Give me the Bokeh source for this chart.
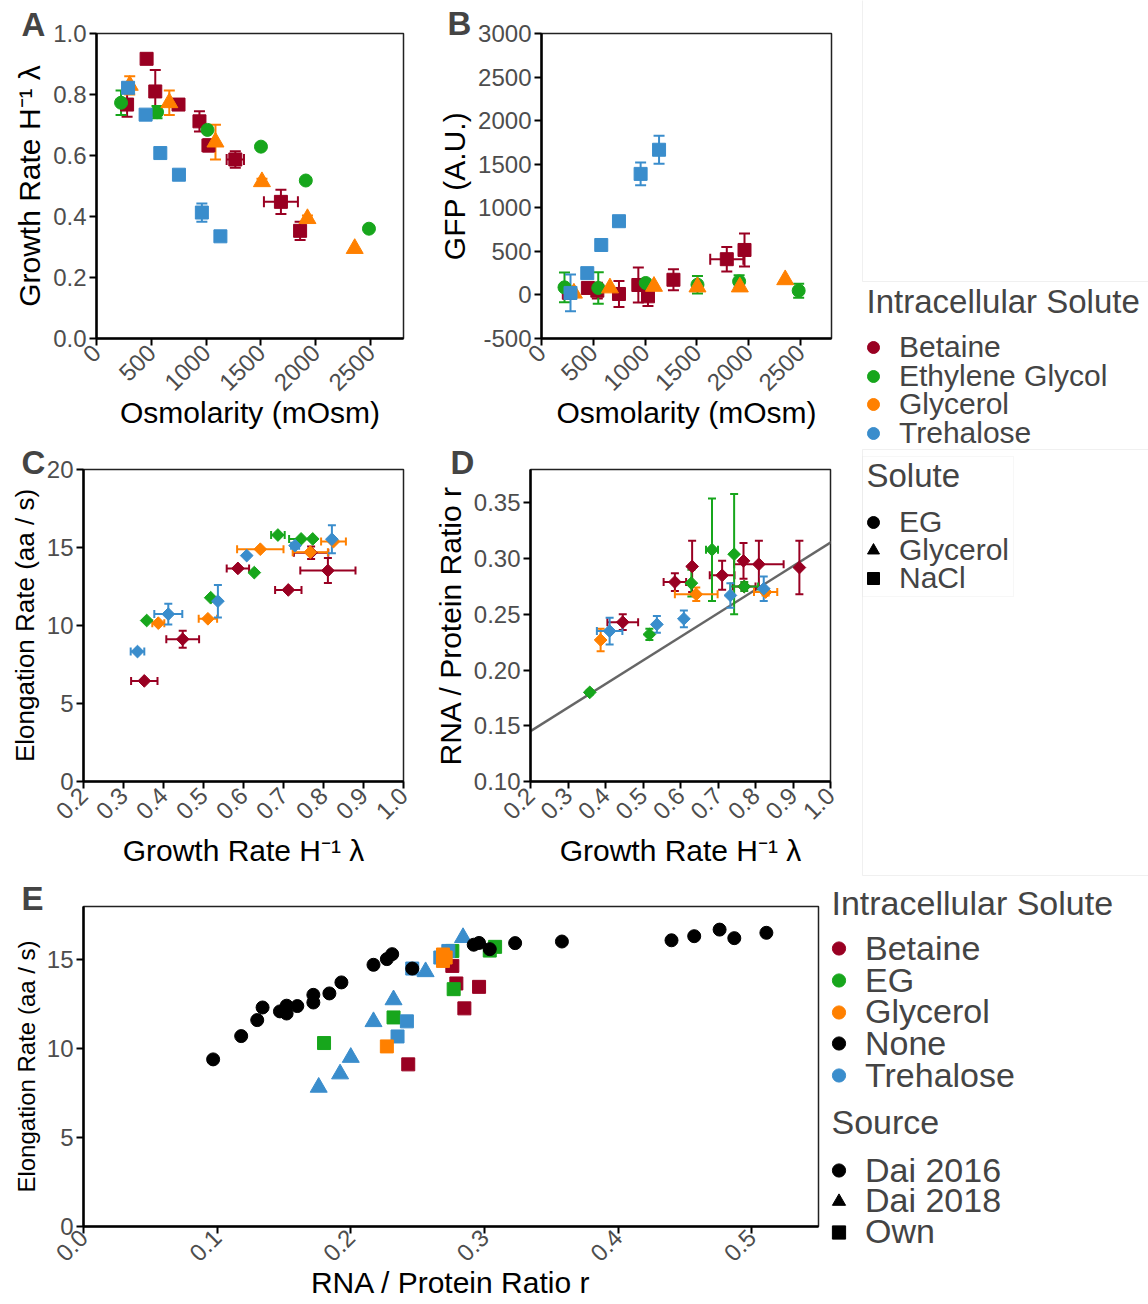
import numpy as np
from math import pi
from bokeh.plotting import figure
from bokeh.models import (ColumnDataSource, Whisker, TeeHead, Range1d, FixedTicker,
                          NumeralTickFormatter, Label, Legend, LegendItem, BoxAnnotation, Slope)
from bokeh.layouts import row, column
from bokeh.embed import file_html
from bokeh.resources import INLINE

FONT = "Liberation Sans"
RED, GREEN, ORANGE, BLUE, BLACK = "#990022", "#17a61c", "#ff8000", "#3a8dcc", "#000000"

# ---------------- Panel A: osmolarity vs growth rate ----------------
A_BET_OSM = [279, 457, 536, 748, 939, 1021, 1266, 1682, 1857]
A_BET_GR = [0.767, 0.917, 0.810, 0.767, 0.712, 0.633, 0.587, 0.448, 0.353]
A_BET_GR_ERR = [0.040, 0.0, 0.070, 0.0, 0.033, 0.020, 0.027, 0.040, 0.030]
A_BET_OSM_ERR = [0, 0, 0, 0, 0, 0, 79, 155, 0]
A_EG_OSM = [224, 552, 1012, 1500, 1909, 2485]
A_EG_GR = [0.773, 0.742, 0.684, 0.629, 0.518, 0.360]
A_EG_GR_ERR = [0.040, 0.020, 0.010, 0, 0, 0]
A_GLY_OSM = [303, 664, 1085, 1509, 1924, 2355]
A_GLY_GR = [0.830, 0.773, 0.644, 0.514, 0.393, 0.295]
A_GLY_GR_ERR = [0.030, 0.040, 0.057, 0.010, 0.010, 0]
A_TRE_OSM = [288, 448, 582, 752, 961, 1130]
A_TRE_GR = [0.822, 0.734, 0.608, 0.537, 0.413, 0.335]
A_TRE_GR_ERR = [0, 0, 0, 0, 0.030, 0]

# ---------------- Panel B: osmolarity vs GFP ----------------
B_BET_OSM = [264, 448, 539, 748, 935, 1028, 1274, 1789, 1960]
B_BET_GFP = [25, 80, 49, 11, 114, -16, 174, 410, 516]
B_BET_GFP_ERR = [60, 40, 90, 150, 200, 110, 120, 140, 190]
B_BET_OSM_ERR = [0, 0, 0, 0, 0, 0, 0, 160, 0]
B_EG_OSM = [222, 548, 1006, 1506, 1908, 2483]
B_EG_GFP = [87, 80, 137, 117, 155, 49]
B_EG_GFP_ERR = [170, 180, 40, 100, 70, 80]
B_GLY_OSM = [313, 661, 1086, 1506, 1915, 2353]
B_GLY_GFP = [20, 80, 98, 91, 91, 174]
B_TRE_OSM = [280, 442, 577, 748, 957, 1135]
B_TRE_GFP = [23, 250, 573, 846, 1389, 1666]
B_TRE_GFP_ERR = [210, 0, 30, 40, 130, 160]

# ---------------- Panel C: growth rate vs elongation rate ----------------
C_BET_GR = [0.352, 0.448, 0.586, 0.712, 0.769, 0.811]
C_BET_EL = [6.45, 9.12, 13.66, 12.28, 14.67, 13.52]
C_BET_GR_ERR = [0.033, 0.041, 0.028, 0.033, 0.043, 0.069]
C_BET_EL_ERR = [0, 0.55, 0, 0, 0.40, 0.80]
C_EG_GR = [0.358, 0.518, 0.627, 0.686, 0.744, 0.773]
C_EG_EL = [10.32, 11.78, 13.39, 15.80, 15.55, 15.55]
C_EG_GR_ERR = [0, 0, 0, 0.017, 0.030, 0]
C_GLY_GR = [0.387, 0.511, 0.642, 0.767, 0.825]
C_GLY_EL = [10.15, 10.43, 14.89, 14.70, 15.38]
C_GLY_GR_ERR = [0.015, 0.023, 0.058, 0.044, 0.031]
C_TRE_GR = [0.335, 0.412, 0.536, 0.608, 0.729, 0.821]
C_TRE_EL = [8.33, 10.73, 11.56, 14.48, 15.12, 15.53]
C_TRE_GR_ERR = [0.017, 0.035, 0, 0, 0.010, 0]
C_TRE_EL_ERR = [0, 0.67, 1.04, 0, 0, 0.90]

# ---------------- Panel D: growth rate vs RNA/protein ----------------
D_BET_GR = [0.446, 0.585, 0.631, 0.711, 0.768, 0.770, 0.809, 0.917]
D_BET_R = [0.243, 0.279, 0.293, 0.285, 0.298, 0.275, 0.295, 0.292]
D_BET_GR_ERR = [0.041, 0.030, 0, 0.033, 0, 0.030, 0.066, 0]
D_BET_R_ERR = [0.007, 0.008, 0.023, 0.013, 0.016, 0, 0.021, 0.024]
D_EG_GR = [0.358, 0.517, 0.629, 0.684, 0.743, 0.770]
D_EG_R = [0.180, 0.232, 0.278, 0.308, 0.304, 0.275]
D_EG_GR_ERR = [0.005, 0, 0, 0.016, 0, 0.037]
D_EG_R_ERR = [0.002, 0.005, 0.012, 0.046, 0.054, 0.004]
D_GLY_GR = [0.387, 0.642, 0.827]
D_GLY_R = [0.227, 0.268, 0.270]
D_GLY_GR_ERR = [0, 0.057, 0.031]
D_GLY_R_ERR = [0.010, 0.006, 0.003]
D_TRE_GR = [0.411, 0.537, 0.609, 0.733, 0.822]
D_TRE_R = [0.235, 0.241, 0.246, 0.267, 0.273]
D_TRE_GR_ERR = [0.034, 0, 0, 0, 0]
D_TRE_R_ERR = [0.012, 0.0075, 0.0075, 0.011, 0.011]
D_FIT_SLOPE = 0.2115
D_FIT_INTERCEPT = 0.1029

# ---------------- Panel E: RNA/protein vs elongation rate ----------------
E_DAI16_R = [0.097, 0.118, 0.130, 0.134, 0.147, 0.152, 0.152, 0.160, 0.172, 0.172, 0.184, 0.193,
             0.217, 0.227, 0.231, 0.246, 0.292, 0.296, 0.304, 0.323, 0.358, 0.440, 0.457, 0.476,
             0.487, 0.511]
E_DAI16_EL = [9.40, 10.71, 11.61, 12.32, 12.10, 12.42, 11.98, 12.40, 13.03, 12.60, 13.11, 13.73,
              14.72, 15.04, 15.32, 14.51, 15.85, 15.95, 15.60, 15.94, 16.03, 16.10, 16.33, 16.70,
              16.22, 16.52]
E_DAI18_R = [0.176, 0.192, 0.200, 0.217, 0.232, 0.256, 0.284]
E_DAI18_EL = [7.83, 8.58, 9.51, 11.52, 12.75, 14.33, 16.25]
E_OWN_BET_R = [0.243, 0.276, 0.279, 0.285, 0.296]
E_OWN_BET_EL = [9.12, 14.66, 13.67, 12.27, 13.48]
E_OWN_EG_R = [0.180, 0.232, 0.277, 0.276, 0.304, 0.308]
E_OWN_EG_EL = [10.32, 11.76, 13.35, 15.50, 15.52, 15.73]
E_OWN_GLY_R = [0.227, 0.269, 0.269, 0.271]
E_OWN_GLY_EL = [10.13, 14.94, 15.30, 15.13]
E_OWN_TRE_R = [0.235, 0.242, 0.246, 0.267, 0.273]
E_OWN_TRE_EL = [10.69, 11.54, 14.51, 15.13, 15.50]

SOLUTES_TOP = ["Betaine", "Ethylene Glycol", "Glycerol", "Trehalose"]
SOLUTE_COLORS_TOP = [RED, GREEN, ORANGE, BLUE]
SHAPES_TOP = ["EG", "Glycerol", "NaCl"]
SHAPE_MARKERS_TOP = ["circle", "triangle", "square"]
SOLUTES_E = ["Betaine", "EG", "Glycerol", "None", "Trehalose"]
SOLUTE_COLORS_E = [RED, GREEN, ORANGE, BLACK, BLUE]
SOURCES_E = ["Dai 2016", "Dai 2018", "Own"]
SOURCE_MARKERS_E = ["circle", "triangle", "square"]


def base_fig(w, h, xr, yr, l, r, t, b):
    p = figure(width=w, height=h, x_range=Range1d(*xr), y_range=Range1d(*yr),
               output_backend="svg", toolbar_location=None,
               min_border_left=l, min_border_right=r, min_border_top=t, min_border_bottom=b)
    p.grid.visible = False
    p.outline_line_color = "#222222"
    p.outline_line_width = 1.5
    p.background_fill_color = "white"
    p.border_fill_color = "white"
    return p


def style(p, xlabel, ylabel, xticks, yticks, xfmt, yfmt, ylabel_size="30px"):
    for ax in (p.xaxis[0], p.yaxis[0]):
        ax.axis_line_width = 2.5
        ax.axis_line_color = "black"
        ax.major_tick_line_width = 2
        ax.major_tick_line_color = "black"
        ax.major_tick_out = 7
        ax.major_tick_in = 0
        ax.minor_tick_line_color = None
        ax.major_label_text_font = FONT
        ax.major_label_text_font_size = "24px"
        ax.major_label_text_color = "#4d4d4d"
        ax.major_label_standoff = 3
        ax.axis_label_text_font = FONT
        ax.axis_label_text_font_style = "normal"
        ax.axis_label_text_color = "black"
        ax.axis_label_standoff = 4
    p.xaxis.axis_label = xlabel
    p.yaxis.axis_label = ylabel
    p.xaxis.axis_label_text_font_size = "30px"
    p.yaxis.axis_label_text_font_size = ylabel_size
    p.xaxis.ticker = FixedTicker(ticks=xticks)
    p.yaxis.ticker = FixedTicker(ticks=yticks)
    p.xaxis.formatter = NumeralTickFormatter(format=xfmt)
    p.yaxis.formatter = NumeralTickFormatter(format=yfmt)
    p.xaxis.major_label_orientation = pi / 4


def errbars(p, x, y, err, color, dim, size):
    x = np.asarray(x, float)
    y = np.asarray(y, float)
    e = np.asarray(err, float)
    m = e > 0
    if not m.any():
        return
    if dim == "height":
        src = ColumnDataSource(dict(base=x[m], lower=y[m] - e[m], upper=y[m] + e[m]))
    else:
        src = ColumnDataSource(dict(base=y[m], lower=x[m] - e[m], upper=x[m] + e[m]))
    w = Whisker(source=src, base="base", lower="lower", upper="upper", dimension=dim,
                line_color=color, line_width=2,
                upper_head=TeeHead(size=size, line_color=color, line_width=2),
                lower_head=TeeHead(size=size, line_color=color, line_width=2))
    p.add_layout(w)


def letter(p, text, offset, standoff):
    p.title.text = text
    p.title.text_font = FONT
    p.title.text_font_size = "33px"
    p.title.text_font_style = "bold"
    p.title.align = "left"
    p.title.vertical_align = "bottom"
    p.title.offset = offset
    p.title.standoff = standoff


GR_LABEL = "Growth Rate H\u207b\u00b9 \u03bb"

# ---------------- Figure A ----------------
pA = base_fig(430, 442, (0, 2800), (0, 1.0), 96, 27, 32, 102)
style(pA, "Osmolarity (mOsm)", GR_LABEL, [0, 500, 1000, 1500, 2000, 2500],
      [0, 0.2, 0.4, 0.6, 0.8, 1.0], "0", "0.0")
pA.xaxis.axis_label_standoff = -5
pA.scatter(A_BET_OSM, A_BET_GR, marker="square", size=13, color=RED)
pA.scatter(A_EG_OSM, A_EG_GR, marker="circle", size=13, color=GREEN)
pA.scatter(A_GLY_OSM, A_GLY_GR, marker="triangle", size=17, color=ORANGE)
pA.scatter(A_TRE_OSM, A_TRE_GR, marker="square", size=13, color=BLUE)
errbars(pA, A_BET_OSM, A_BET_GR, A_BET_GR_ERR, RED, "height", 11)
errbars(pA, A_BET_OSM, A_BET_GR, A_BET_OSM_ERR, RED, "width", 11)
errbars(pA, A_EG_OSM, A_EG_GR, A_EG_GR_ERR, GREEN, "height", 11)
errbars(pA, A_GLY_OSM, A_GLY_GR, A_GLY_GR_ERR, ORANGE, "height", 11)
errbars(pA, A_TRE_OSM, A_TRE_GR, A_TRE_GR_ERR, BLUE, "height", 11)
letter(pA, "A", -75, -19)

# ---------------- Figure B ----------------
pB = base_fig(418, 442, (0, 2800), (-500, 3000), 111, 17, 33, 104)
style(pB, "Osmolarity (mOsm)", "GFP (A.U.)", [0, 500, 1000, 1500, 2000, 2500],
      [-500, 0, 500, 1000, 1500, 2000, 2500, 3000], "0", "0")
pB.xaxis.axis_label_standoff = -5
pB.scatter(B_BET_OSM, B_BET_GFP, marker="square", size=13, color=RED)
pB.scatter(B_EG_OSM, B_EG_GFP, marker="circle", size=13, color=GREEN)
pB.scatter(B_GLY_OSM, B_GLY_GFP, marker="triangle", size=17, color=ORANGE)
pB.scatter(B_TRE_OSM, B_TRE_GFP, marker="square", size=13, color=BLUE)
errbars(pB, B_BET_OSM, B_BET_GFP, B_BET_GFP_ERR, RED, "height", 11)
errbars(pB, B_BET_OSM, B_BET_GFP, B_BET_OSM_ERR, RED, "width", 11)
errbars(pB, B_EG_OSM, B_EG_GFP, B_EG_GFP_ERR, GREEN, "height", 11)
errbars(pB, B_TRE_OSM, B_TRE_GFP, B_TRE_GFP_ERR, BLUE, "height", 11)
letter(pB, "B", -94, -17)

# ---------------- Figure C ----------------
pC = base_fig(430, 438, (0.2, 1.0), (0, 20), 83, 27, 27, 99)
style(pC, GR_LABEL, "Elongation Rate (aa / s)", [0.2, 0.3, 0.4, 0.5, 0.6, 0.7, 0.8, 0.9, 1.0],
      [0, 5, 10, 15, 20], "0.0", "0", ylabel_size="26px")
for gx, gy, gxe, gye, col in [
        (C_BET_GR, C_BET_EL, C_BET_GR_ERR, C_BET_EL_ERR, RED),
        (C_EG_GR, C_EG_EL, C_EG_GR_ERR, None, GREEN),
        (C_GLY_GR, C_GLY_EL, C_GLY_GR_ERR, None, ORANGE),
        (C_TRE_GR, C_TRE_EL, C_TRE_GR_ERR, C_TRE_EL_ERR, BLUE)]:
    pC.scatter(gx, gy, marker="square", angle=pi / 4, size=9, color=col)
    errbars(pC, gx, gy, gxe, col, "width", 8)
    if gye is not None:
        errbars(pC, gx, gy, gye, col, "height", 8)
letter(pC, "C", -62, -22)

# ---------------- Figure D ----------------
pD = base_fig(418, 438, (0.2, 1.0), (0.10, 0.38), 97, 18, 27, 99)
style(pD, GR_LABEL, "RNA / Protein Ratio r", [0.2, 0.3, 0.4, 0.5, 0.6, 0.7, 0.8, 0.9, 1.0],
      [0.10, 0.15, 0.20, 0.25, 0.30, 0.35], "0.0", "0.00")
pD.add_layout(Slope(gradient=D_FIT_SLOPE, y_intercept=D_FIT_INTERCEPT,
                    line_color="#666666", line_width=2.5, level="underlay"))
for gx, gy, gxe, gye, col in [
        (D_BET_GR, D_BET_R, D_BET_GR_ERR, D_BET_R_ERR, RED),
        (D_EG_GR, D_EG_R, D_EG_GR_ERR, D_EG_R_ERR, GREEN),
        (D_GLY_GR, D_GLY_R, D_GLY_GR_ERR, D_GLY_R_ERR, ORANGE),
        (D_TRE_GR, D_TRE_R, D_TRE_GR_ERR, D_TRE_R_ERR, BLUE)]:
    pD.scatter(gx, gy, marker="square", angle=pi / 4, size=9, color=col)
    errbars(pD, gx, gy, gxe, col, "width", 8)
    errbars(pD, gx, gy, gye, col, "height", 8)
letter(pD, "D", -80, -22)

# ---------------- Figure E ----------------
pE = base_fig(820, 424, (0, 0.55), (0, 18), 83, 2, 26, 78)
style(pE, "RNA / Protein Ratio r", "Elongation Rate (aa / s)", [0, 0.1, 0.2, 0.3, 0.4, 0.5],
      [0, 5, 10, 15], "0.0", "0", ylabel_size="24px")
pE.xaxis.axis_label_standoff = -6
pE.xaxis.major_label_standoff = 0
pE.scatter(E_OWN_BET_R, E_OWN_BET_EL, marker="square", size=13, color=RED)
pE.scatter(E_OWN_EG_R, E_OWN_EG_EL, marker="square", size=13, color=GREEN)
pE.scatter(E_OWN_TRE_R, E_OWN_TRE_EL, marker="square", size=13, color=BLUE)
pE.scatter(E_OWN_GLY_R, E_OWN_GLY_EL, marker="square", size=13, color=ORANGE)
pE.scatter(E_DAI18_R, E_DAI18_EL, marker="triangle", size=17, color=BLUE)
pE.scatter(E_DAI16_R, E_DAI16_EL, marker="circle", size=13, color=BLACK)
letter(pE, "E", -62, -21)


# ---------------- Legend panels ----------------
def legend_panel(w, h, x0, y0):
    p = figure(width=w, height=h, x_range=Range1d(x0, x0 + w), y_range=Range1d(y0 + h, y0),
               x_axis_type=None, y_axis_type=None, min_border=0, outline_line_color=None,
               output_backend="svg", toolbar_location=None)
    p.grid.visible = False
    p.border_fill_color = "white"
    return p


def make_legend(p, panel_bottom, labels, markers, colors, first_row, pitch, vx,
                font_size, gw, row_h, standoff):
    nan_src = dict(x=[float("nan")], y=[float("nan")])
    for i, (lab, mk, col) in enumerate(zip(labels, markers, colors)):
        r = p.scatter("x", "y", source=ColumnDataSource(nan_src), marker=mk, color=col)
        cy = first_row + i * pitch
        leg = Legend(items=[LegendItem(label=lab, renderers=[r])],
                     location=(vx, panel_bottom - cy - row_h / 2), orientation="vertical",
                     glyph_width=gw, glyph_height=row_h, label_height=row_h,
                     label_standoff=standoff, spacing=0, padding=0, margin=0,
                     border_line_color=None, background_fill_alpha=0,
                     label_text_font=FONT, label_text_font_size=font_size)
        p.add_layout(leg)


def title_label(p, text, x, y, size):
    p.add_layout(Label(x=x, y=y, text=text, text_font=FONT, text_font_size=size,
                       text_baseline="middle", text_align="left"))


LF = legend_panel(300, 880, 848, 0)
LF.add_layout(BoxAnnotation(left=862, right=1300, top=-50, bottom=281, fill_alpha=0,
                            line_color="#cccccc", line_width=1))
LF.add_layout(BoxAnnotation(left=862, right=1300, top=449, bottom=875, fill_alpha=0,
                            line_color="#cccccc", line_width=1))
LF.add_layout(BoxAnnotation(left=862, right=1013, top=456, bottom=596, fill_alpha=0,
                            line_color="#e6e6e6", line_width=1))
title_label(LF, "Intracellular Solute", 866, 301, "33px")
make_legend(LF, 880, SOLUTES_TOP, ["circle"] * 4, SOLUTE_COLORS_TOP, 347, 28.5, 10,
            "30px", 30, 42, 11)
title_label(LF, "Solute", 866, 475, "33px")
make_legend(LF, 880, SHAPES_TOP, SHAPE_MARKERS_TOP, [BLACK] * 3, 521.7, 28.3, 10,
            "30px", 30, 42, 11)

LE = legend_panel(328, 424, 820, 880)
title_label(LE, "Intracellular Solute", 831, 902, "34px")
make_legend(LE, 424, SOLUTES_E, ["circle"] * 5, SOLUTE_COLORS_E, 948.3 - 880, 31.7, 2,
            "34px", 33, 46, 10)
title_label(LE, "Source", 831, 1121, "34px")
make_legend(LE, 424, SOURCES_E, SOURCE_MARKERS_E, [BLACK] * 3, 1170 - 880, 30.8, 2,
            "34px", 33, 46, 10)

layout = column(row(column(row(pA, pB), row(pC, pD)), LF), row(column(pE), column(LE)))
open("out.html", "w").write(file_html(layout, INLINE))
